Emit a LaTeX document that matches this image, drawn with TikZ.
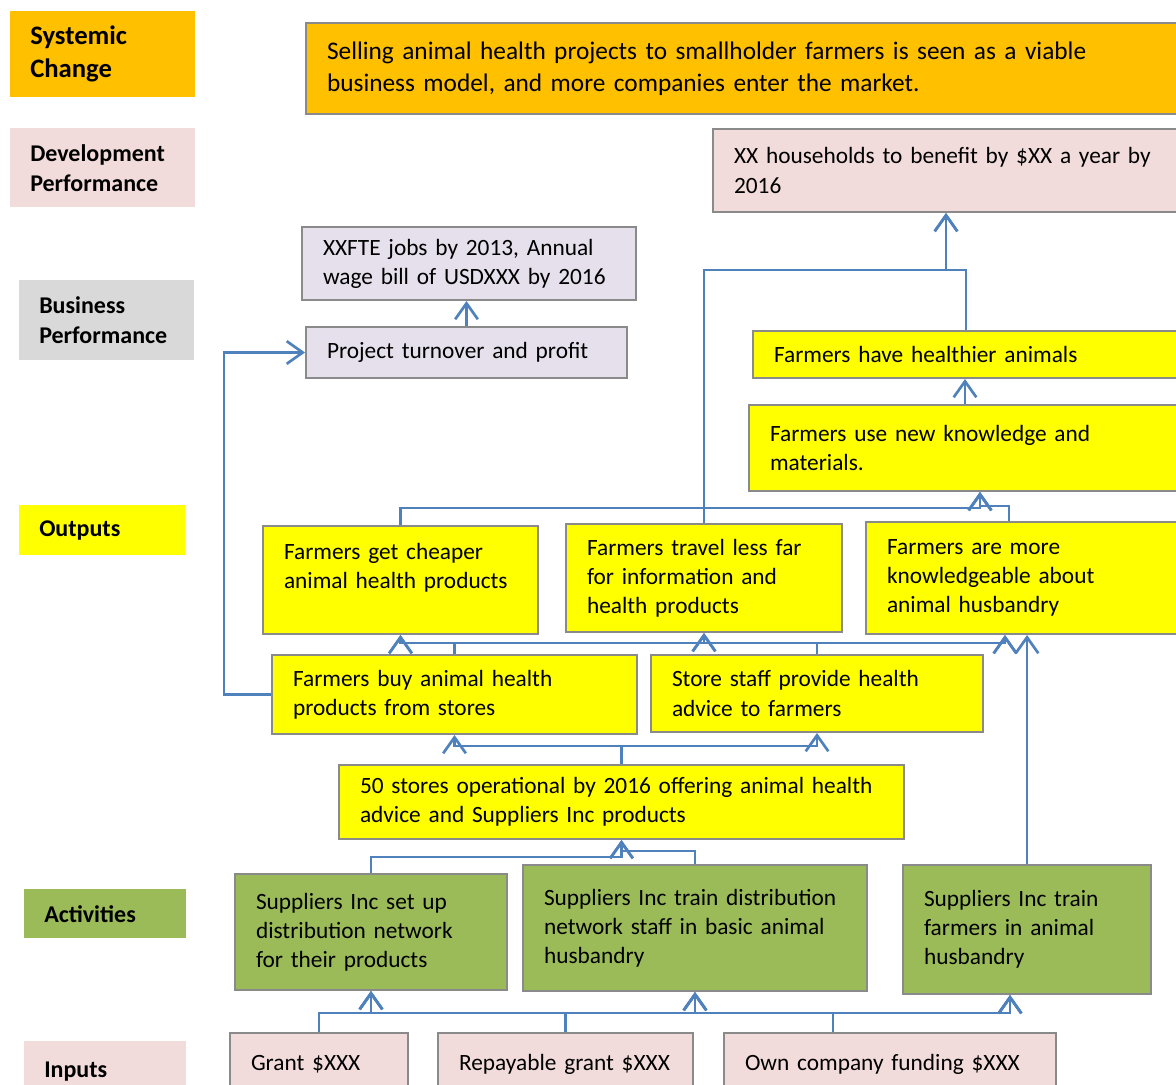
\documentclass[tikz,border=0pt]{standalone}
\usepackage{fontspec}
\setmainfont{Carlito}
\usetikzlibrary{arrows.meta,calc}
\definecolor{sysorange}{HTML}{FFC000}
\definecolor{devpink}{HTML}{F2DCDB}
\definecolor{busgray}{HTML}{D9D9D9}
\definecolor{buslilac}{HTML}{E5E0EC}
\definecolor{outyellow}{HTML}{FFFF00}
\definecolor{actgreen}{HTML}{9BBB59}
\definecolor{edgegray}{HTML}{8A8A8A}
\definecolor{linkblue}{HTML}{4F81BD}
\newcommand\bodyfont{\fontsize{17.5}{21.8}\selectfont}
\newcommand\tierfont{\fontsize{18}{22.5}\selectfont\bfseries}
\tikzset{
  tier/.style n args={3}{anchor=north west, fill=#1, text width=#2pt,
    minimum height=#3pt, inner xsep=15pt, inner ysep=0pt, align=left,
    font=\tierfont},
  result/.style n args={3}{anchor=north west, draw=edgegray, line width=1.5pt,
    fill=#1, text width=#2pt, minimum height=#3pt, inner xsep=15.75pt,
    inner ysep=0pt, align=left, font=\bodyfont},
  link/.style={draw=linkblue, line width=2pt,
    -{Straight Barb[length=12pt,width=17pt]}}
}

\begin{document}
\begin{tikzpicture}[x=0.75pt, y=-0.75pt]
    \useasboundingbox (0,0) rectangle (1176,1084);
    \clip (0,0) rectangle (1176,1084);
    % row labels
    \node[tier={sysorange}{108.75}{64.5}, font=\fontsize{20}{24.75}\selectfont\bfseries]
      (sysL) at (10,11) {Systemic\\Change};
    \node[tier={devpink}{108.75}{59.25}] (devL) at (10,128) {Development\\Performance};
    \node[tier={busgray}{101.25}{60}] (busL) at (19,280) {Business\\Performance};
    \node[tier={outyellow}{94.5}{37.5}] (outL) at (19,505) {Outputs};
    \node[tier={actgreen}{91.5}{36.75}] (actL) at (24,889) {Activities};
    \node[tier={devpink}{91.5}{45}] (inL) at (24,1041) {Inputs};
    % result chain
    \node[result={sysorange}{643.5}{68.25}, font=\fontsize{19}{24}\selectfont] (sys) at (305,22)
      {Selling animal health projects to smallholder farmers is seen as a viable\\business model, and more companies enter the market.};
    \node[result={devpink}{343.5}{62.25}] (dev) at (712,128)
      {XX households to benefit by \$XX a year by\\2016};
    \node[result={buslilac}{219}{54.75}] (fte) at (301,226)
      {XXFTE jobs by 2013, Annual\\wage bill of USDXXX by 2016};
    \node[result={buslilac}{209.25}{38.25}] (turn) at (305,326)
      {Project turnover and profit};
    \node[result={outyellow}{306}{35.25}] (healthy) at (752,330)
      {Farmers have healthier animals};
    \node[result={outyellow}{306}{64.5}] (use) at (748,404)
      {Farmers use new knowledge and\\materials.};
    \node[result={outyellow}{174.75}{81}] (cheap) at (262,525)
      {Farmers get cheaper\\animal health products\\ \mbox{}};
    \node[result={outyellow}{175.5}{81}] (travel) at (565,523)
      {Farmers travel less far\\for information and\\health products};
    \node[result={outyellow}{223.5}{84}] (know) at (865,521)
      {Farmers are more\\knowledgeable about\\animal husbandry};
    \node[result={outyellow}{242.25}{59.25}] (buy) at (271,654)
      {Farmers buy animal health\\products from stores};
    \node[result={outyellow}{217.5}{57.75}] (staff) at (650,654)
      {Store staff provide health\\advice to farmers};
    \node[result={outyellow}{392.25}{55.5}] (stores) at (338,764)
      {50 stores operational by 2016 offering animal health\\advice and Suppliers Inc products};
    \node[result={actgreen}{172.5}{87}] (setup) at (234,873)
      {Suppliers Inc set up\\distribution network\\for their products};
    \node[result={actgreen}{226.5}{94.5}] (trainS) at (522,864)
      {Suppliers Inc train distribution\\network staff in basic animal\\husbandry};
    \node[result={actgreen}{154.5}{96.75}] (trainF) at (902,864)
      {Suppliers Inc train\\farmers in animal\\husbandry};
    \node[result={devpink}{102}{46.5}] (grant) at (229,1032) {\mbox{Grant \$XXX}};
    \node[result={devpink}{159.75}{46.5}] (repay) at (437,1032) {\mbox{Repayable grant \$XXX}};
    \node[result={devpink}{217.5}{46.5}] (own) at (723,1032) {\mbox{Own company funding \$XXX}};
    % connector ends that are off centre
    \coordinate (ownout) at ($(own.north west)+(110,0)$);
    \coordinate (trainFin) at ($(trainF.south west)+(108,0)$);
    \coordinate (knowin) at ($(know.south west)+(140,0)$);
    \coordinate (knowout) at ($(know.north west)+(144,0)$);
    \coordinate (usein) at ($(use.south west)+(232,0)$);
    \coordinate (useout) at ($(use.north west)+(217,0)$);
    \coordinate (healthyout) at ($(healthy.north west)+(214,0)$);
    \coordinate (devin) at ($(dev.south west)+(234,0)$);
    \begin{scope}[link]
      \foreach \s in {grant.north, repay.north, ownout}
        \foreach \t in {setup.south, trainS.south, trainFin}
          \draw (\s) -- ++(0,-19) -| (\t) ;
      \draw (setup.north) -- ++(0,-16) -| (stores.south) ;
      \draw (trainS.north) -- ++(0,-13) -| (stores.south) ;
      \draw (stores.north) -- ++(0,-18) -| (buy.south) ;
      \draw (stores.north) -- ++(0,-18) -| (staff.south) ;
      \foreach \s in {buy.north, staff.north}
        \foreach \t in {cheap.south, travel.south, knowin}
          \draw (\s) -- ++(0,-11) -| (\t) ;
      \draw (trainF.north) -- (trainF.north |- know.south) ;
      \draw (cheap.north) -- ++(0,-17) -| (usein) ;
      \draw (travel.north) -- ++(0,-15) -| (usein) ;
      \draw (knowout) -- ++(0,-15) -| (usein) ;
      \draw (useout) -- (useout |- healthy.south) ;
      \draw (healthyout) -- ++(0,-60) -| (devin) ;
      \draw (travel.north) -- ++(0,-253) -| (devin) ;
      \draw (buy.west) -- ++(-47,0) |- (turn.west) ;
      \draw (turn.north) -- (turn.north |- fte.south) ;
    \end{scope}
\end{tikzpicture}
\end{document}
